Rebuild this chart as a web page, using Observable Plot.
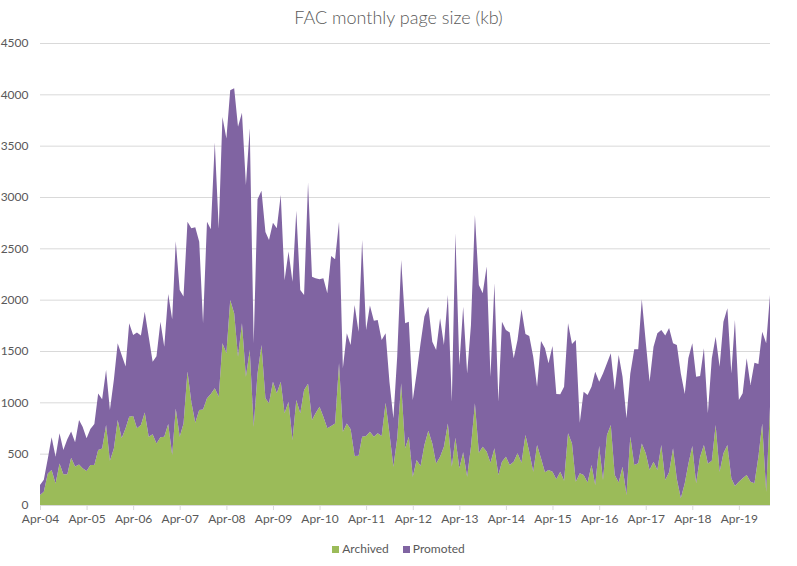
<!DOCTYPE html>
<html>
<head>
<meta charset="utf-8">
<script src="https://cdn.jsdelivr.net/npm/d3@7"></script>
<script src="https://cdn.jsdelivr.net/npm/@observablehq/plot@0.6"></script>
<style>
  body { margin: 0; background: #fff; font-family: Lato, "Open Sans", sans-serif; color: #595959; }
  #title { height: 34px; line-height: 34px; text-align: center; font-size: 18px; font-weight: 300; color: #595959; width: 797px; }
  #legend { width: 797px; display: flex; justify-content: center; align-items: center; gap: 14px; font-size: 12px; margin-top: 7px; }
  #legend span.sw { display: inline-block; width: 7px; height: 7px; margin-right: 3px; }
</style>
</head>
<body>
<div id="title">FAC monthly page size (kb)</div>
<div id="chart"></div>
<div id="legend"></div>
<script>
const seriesNames = ["Archived", "Promoted"];
const seriesColors = ["#9BBB59", "#8064A2"];
const firstMonth = "2004-04-01";
const yTicks = [0, 500, 1000, 1500, 2000, 2500, 3000, 3500, 4000, 4500];
const xTickLabels = ["Apr-04","Apr-05","Apr-06","Apr-07","Apr-08","Apr-09","Apr-10","Apr-11","Apr-12","Apr-13","Apr-14","Apr-15","Apr-16","Apr-17","Apr-18","Apr-19"];

const archived = [97,130,308,340,210,405,300,300,460,375,395,357,330,390,390,535,550,780,430,550,828,650,747,860,
867,747,780,900,665,690,600,660,665,790,487,940,665,795,1300,1005,800,925,930,1040,1080,1136,1055,1575,
1477,1997,1867,1445,1770,1250,1510,763,1282,1558,1040,990,1200,1088,1200,893,1006,633,1023,893,1120,1180,828,893,
958,860,747,770,795,1380,714,795,737,477,480,665,672,714,665,698,672,997,698,373,650,1185,552,665,
276,438,380,584,724,600,405,470,568,795,373,655,357,513,276,568,990,510,568,520,412,552,292,422,
470,390,422,503,412,682,519,325,584,455,318,341,325,250,325,237,698,600,227,310,292,218,390,195,
575,243,682,779,292,218,373,97,666,390,406,600,503,341,422,341,584,243,320,552,250,65,211,399,
575,211,470,584,405,432,779,325,503,584,260,185,227,260,292,227,211,470,795,130,958];

const promoted = [98,115,142,320,260,295,235,340,255,235,433,406,320,350,400,550,480,535,495,670,747,810,603,910,
788,933,870,983,975,706,850,1125,877,1265,1323,1630,1430,1235,1460,1690,1905,1640,840,1720,1605,2394,1635,2205,
2093,2043,2193,2240,2050,1867,2160,812,1696,1504,1620,1590,1550,1607,1820,1297,1462,1542,1844,1202,925,1960,1396,1315,
1242,1348,1315,1655,1598,1380,617,877,821,1471,1208,1915,1033,1228,1130,1104,935,675,502,471,800,1202,1218,1121,
747,844,1195,1251,1208,991,1105,1348,990,1250,633,1991,1007,1419,1006,1185,1835,1633,1494,1802,838,1608,714,1364,
1235,1290,1008,1104,1494,983,1127,1120,569,1142,1208,1039,1224,831,753,916,1072,968,1380,490,812,853,763,1104,
626,1039,698,698,828,1243,877,747,616,1126,1110,1403,1088,860,1120,1331,1121,1407,1405,1023,1308,1217,870,1030,
1000,1039,786,942,488,997,861,1022,1283,1332,1022,1617,796,828,1137,942,1175,903,893,1445,1087];

const start = new Date(firstMonth + "T00:00:00Z");
const dates = archived.map((_, i) => d3.utcMonth.offset(start, i));
const rows = [];
dates.forEach((d, i) => {
  rows.push({date: d, series: seriesNames[0], value: archived[i]});
  rows.push({date: d, series: seriesNames[1], value: promoted[i]});
});
const xTicks = xTickLabels.map((_, k) => d3.utcYear.offset(start, k));

const chart = Plot.plot({
  width: 797,
  height: 500,
  marginLeft: 40,
  marginRight: 27,
  marginTop: 9,
  marginBottom: 29,
  style: {fontFamily: "Lato, 'Open Sans', sans-serif", fontSize: "12px", color: "#595959", background: "#fff"},
  x: {type: "utc", domain: [dates[0], dates[dates.length - 1]], label: null},
  y: {domain: [0, 4500], label: null},
  color: {domain: seriesNames, range: seriesColors},
  marks: [
    Plot.gridY(yTicks, {stroke: "#d9d9d9", strokeOpacity: 1}),
    Plot.areaY(rows, {x: "date", y: "value", fill: "series", z: "series", order: seriesNames, curve: "linear"}),
    Plot.ruleY([0], {stroke: "#d9d9d9"}),
    Plot.axisY(yTicks, {tickSize: 0, tickPadding: 12, color: "#595959", fontSize: 12, tickFormat: d3.format("d"), label: null}),
    Plot.axisX(xTicks, {tickSize: 5, tickPadding: 4, stroke: "#d9d9d9", color: "#595959", label: null,
      tickFormat: (d) => xTickLabels[xTicks.findIndex(t => +t === +d)], fontSize: 12})
  ]
});
document.getElementById("chart").appendChild(chart);

const legend = document.getElementById("legend");
seriesNames.forEach((n, i) => {
  const item = document.createElement("span");
  item.innerHTML = `<span class="sw" style="background:${seriesColors[i]}"></span>${n}`;
  legend.appendChild(item);
});
</script>
</body>
</html>
